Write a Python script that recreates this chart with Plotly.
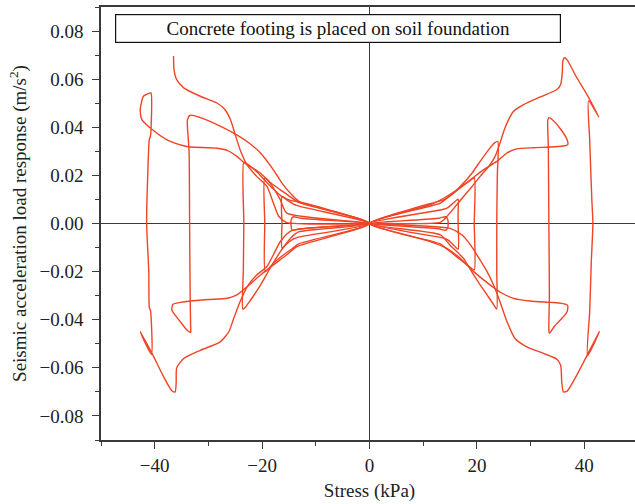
import plotly.graph_objects as go

# ---- data (Stress kPa, acceleration m/s^2) ----
start_x = [-36.5, -36.4, -35.9, -34.6, -31.5, -28.4, -26.9, -25.9, -25.0, -24.1, -22.8, -21.0, -19.1, -17.9, -16.9, -15.5, 0.0]
start_y = [0.0696, 0.064, 0.0598, 0.0564, 0.0529, 0.0501, 0.0473, 0.0432, 0.0369, 0.0307, 0.0244, 0.0196, 0.0154, 0.0085, 0.003, 0.0005, 0.0]

r0_x = [0.0, 12.9, 14.2, 14.6, 14.6, 14.2, 12.9, 0.0]
r0_y = [0.0, 0.0022, 0.0028, 0.0015, -0.0015, -0.0028, -0.0022, 0.0]

r1_x = [0.0, 13.6, 14.6, 15.6, 16.5, 16.5, 16.5, 16.5, 15.6, 14.6, 13.6, 0.0]
r1_y = [0.0, 0.0058, 0.0066, 0.0085, 0.0101, 0.005, 0.0, -0.0107, -0.0088, -0.0068, -0.006, 0.0]

r2_x = [0.0, 13.2, 14.4, 15.6, 17.0, 18.5, 19.5, 19.5, 19.5, 18.5, 17.0, 15.6, 14.4, 13.2, 0.0]
r2_y = [0.0, 0.0085, 0.0105, 0.0125, 0.015, 0.0175, 0.019, 0.0, -0.0193, -0.0178, -0.0152, -0.0127, -0.0106, -0.0085, 0.0]

r3_x = [0.0, 12.5, 13.8, 15.6, 17.5, 19.1, 20.6, 22.2, 23.3, 23.9, 23.8, 23.7, 23.7, 23.7, 23.2, 21.9, 20.6, 19.4, 17.5, 15.0, 13.2, 0.0]
r3_y = [0.0, 0.009, 0.0098, 0.0126, 0.0168, 0.021, 0.0258, 0.0307, 0.0335, 0.0341, 0.02, 0.0, -0.02, -0.0356, -0.034, -0.0297, -0.0255, -0.0214, -0.0145, -0.009, -0.0047, 0.0]

r4_x = [0.0, 11.3, 13.8, 16.3, 18.8, 21.2, 23.7, 25.6, 27.4, 30.5, 33.7, 36.0, 36.9, 36.8, 35.5, 34.0, 33.4, 33.2, 33.3, 33.4, 33.5, 33.4, 33.5,
        34.5, 36.0, 36.8, 36.9, 35.8, 33.7, 29.9, 26.8, 24.7, 22.5, 19.4, 16.9, 14.4, 11.3, 0.0]
r4_y = [0.0, 0.0078, 0.0105, 0.014, 0.0182, 0.0223, 0.0258, 0.0293, 0.031, 0.0315, 0.0318, 0.0322, 0.0327, 0.0348, 0.0395, 0.0432, 0.044, 0.043, 0.032, 0.0, -0.03, -0.0445, -0.0457,
        -0.0425, -0.039, -0.0367, -0.034, -0.0332, -0.0328, -0.0322, -0.0311, -0.029, -0.0256, -0.02, -0.0145, -0.0103, -0.0075, 0.0]

r5_x = [0.0, 13.2, 14.4, 16.0, 17.5, 19.1, 20.6, 22.2, 23.4, 24.3, 25.1, 25.9, 26.8, 28.7, 31.8, 34.9, 35.6, 35.9, 36.0, 36.3, 36.8, 38.5, 40.5,
        42.7, 40.8, 41.0, 41.4, 41.6, 41.3, 41.0, 40.9, 40.6, 42.8, 40.7, 38.6, 36.8, 36.1, 35.8, 35.6, 34.9, 32.4, 29.3, 27.1,
        25.6, 24.3, 23.1, 21.9, 20.0, 18.8, 17.2, 15.0, 0.0]
r5_y = [0.0, 0.0005, 0.0029, 0.0071, 0.0112, 0.0154, 0.0196, 0.0237, 0.0279, 0.0334, 0.039, 0.0432, 0.0466, 0.0494, 0.0526, 0.0557, 0.0578, 0.0626, 0.0675, 0.0689, 0.068, 0.061, 0.0536,
        0.0443, 0.051, 0.035, 0.01, 0.0, -0.016, -0.037, -0.040, -0.055, -0.045, -0.054, -0.063, -0.0697, -0.07, -0.0658, -0.0589, -0.0564, -0.054, -0.0513, -0.0478,
        -0.0408, -0.0325, -0.0256, -0.02, -0.013, -0.0089, -0.0047, -0.002, 0.0]

l0_x = [0.0, -12.9, -14.4, -14.6, -14.6, -14.2, -12.9, 0.0]
l0_y = [0.0, -0.0022, -0.0028, -0.0012, 0.0015, 0.0028, 0.0022, 0.0]

l1_x = [0.0, -13.4, -14.6, -15.6, -16.3, -16.3, -16.3, -15.2, -13.6, 0.0]
l1_y = [0.0, -0.0058, -0.007, -0.0088, -0.0103, 0.0, 0.0112, 0.0095, 0.0075, 0.0]

l2_x = [0.0, -13.2, -14.4, -16.0, -17.9, -19.4, -19.5, -19.5, -18.2, -16.6, -14.8, -13.2, 0.0]
l2_y = [0.0, -0.0085, -0.0105, -0.013, -0.0165, -0.02, 0.0, 0.0189, 0.0165, 0.014, 0.0112, 0.0088, 0.0]

l3_x = [0.0, -13.2, -14.7, -16.6, -18.5, -20.3, -22.2, -23.2, -23.6, -23.5, -23.4, -23.4, -22.6, -21.0, -19.5, -18.0, -16.5, -14.6, -13.0, 0.0]
l3_y = [0.0, -0.0035, -0.0061, -0.0117, -0.0186, -0.0256, -0.032, -0.035, -0.0356, -0.02, 0.0, 0.0254, 0.0245, 0.0215, 0.018, 0.0145, 0.0115, 0.0095, 0.009, 0.0]

l4_x = [0.0, -13.5, -15.4, -17.9, -20.3, -22.8, -24.7, -26.5, -30.0, -33.4, -35.2, -36.6, -36.8, -35.2, -34.0, -33.3, -33.3, -33.4, -33.5, -33.6, -33.9, -33.9, -33.4,
        -31.5, -28.4, -25.3, -22.8, -20.3, -17.9, -16.3, -14.5, -13.0, 0.0]
l4_y = [0.0, -0.0096, -0.013, -0.0172, -0.0214, -0.0263, -0.0297, -0.0311, -0.0316, -0.0322, -0.0328, -0.0336, -0.036, -0.0409, -0.0443, -0.0453, -0.044, -0.03, 0.0, 0.03, 0.04, 0.0432, 0.045,
        0.044, 0.0411, 0.0376, 0.0341, 0.0293, 0.0223, 0.0168, 0.012, 0.009, 0.0]

l5_x = [0.0, -14.5, -16.6, -17.9, -19.1, -21.0, -22.8, -24.1, -25.3, -26.2, -27.8, -31.5, -34.6, -35.9, -36.0, -36.2, -36.8, -38.5, -40.5, -42.7, -40.6,
        -40.8, -41.0, -41.1, -41.5, -41.3, -41.0, -40.8, -40.7, -41.2, -42.1, -42.7, -42.4, -40.8, -37.7, -34.6, -33.4, -28.4, -26.5, -24.7, -23.4,
        -22.2, -20.3, -18.5, -16.6, -15.4, 0.0]
l5_y = [0.0, -0.003, -0.0075, -0.013, -0.0179, -0.0214, -0.0263, -0.0325, -0.0395, -0.045, -0.0492, -0.0527, -0.0561, -0.06, -0.066, -0.07, -0.0695, -0.063, -0.054, -0.045, -0.0545,
        -0.036, -0.035, -0.02, 0.0, 0.02, 0.035, 0.0362, 0.0543, 0.054, 0.0529, 0.0473, 0.0432, 0.0397, 0.0348, 0.0323, 0.0318, 0.0313, 0.0304, 0.0279, 0.0254,
        0.0237, 0.0209, 0.0168, 0.0098, 0.0043, 0.0]

segments = [
    (start_x, start_y), (r0_x, r0_y), (l0_x, l0_y), (r1_x, r1_y), (l1_x, l1_y),
    (r2_x, r2_y), (l2_x, l2_y), (r3_x, r3_y), (l3_x, l3_y), (r4_x, r4_y),
    (l4_x, l4_y), (r5_x, r5_y), (l5_x, l5_y),
]

x_ticks = [-40, -20, 0, 20, 40]
y_ticks = [-0.08, -0.06, -0.04, -0.02, 0.0, 0.02, 0.04, 0.06, 0.08]

LINE = "#EF4426"
AX = "#3a3a3a"
FONT = "Liberation Serif"

fig = go.Figure()
for sx, sy in segments:
    fig.add_trace(go.Scatter(x=sx, y=sy, mode="lines",
                             line=dict(color=LINE, width=1.4, shape="spline", smoothing=0.6),
                             showlegend=False, hoverinfo="skip"))

# figure is slightly wider than the window so that the right frame falls just outside, as in the reference
fig.update_layout(
    width=638, height=504,
    margin=dict(l=101, r=0, t=7, b=64, autoexpand=False),
    paper_bgcolor="white", plot_bgcolor="white",
    font=dict(family=FONT, size=19, color="#222"),
    annotations=[dict(
        text="Concrete footing is placed on soil foundation",
        xref="paper", yref="paper", x=0.4405, y=0.9515,
        xanchor="center", yanchor="middle", showarrow=False,
        font=dict(family=FONT, size=19, color="#111"),
        bordercolor="#111", borderwidth=1.2, bgcolor="white",
        width=440, height=23, borderpad=2,
    )],
)
fig.update_xaxes(
    range=[-50, 50], tickvals=x_ticks, ticks="outside", ticklen=7, tickwidth=1.3, tickcolor=AX,
    minor=dict(dtick=10, tick0=0, ticks="outside", ticklen=4, tickwidth=1.3, tickcolor=AX),
    showline=True, linecolor=AX, linewidth=1.5, mirror=True,
    showgrid=False, zeroline=True, zerolinecolor=AX, zerolinewidth=1.3,
    title=dict(text="Stress (kPa)", font=dict(family=FONT, size=19), standoff=9),
    tickfont=dict(family=FONT, size=19), ticklabelstandoff=0, automargin=False,
)
fig.update_yaxes(
    range=[-0.09, 0.09], tickvals=y_ticks, tickformat=".2f", ticks="outside", ticklen=7, tickwidth=1.3, tickcolor=AX,
    minor=dict(dtick=0.01, tick0=0, ticks="outside", ticklen=4, tickwidth=1.3, tickcolor=AX),
    showline=True, linecolor=AX, linewidth=1.5, mirror=False,
    showgrid=False, zeroline=True, zerolinecolor=AX, zerolinewidth=1.3,
    title=dict(text="Seismic acceleration load response (m/s<sup>2</sup>)", font=dict(family=FONT, size=19), standoff=8),
    tickfont=dict(family=FONT, size=19), ticklabelstandoff=5, automargin=False,
)

fig.write_html("out.html", config={"displayModeBar": False},
               post_script="document.documentElement.style.overflow='hidden';document.body.style.margin='0';document.body.style.overflow='hidden';")
